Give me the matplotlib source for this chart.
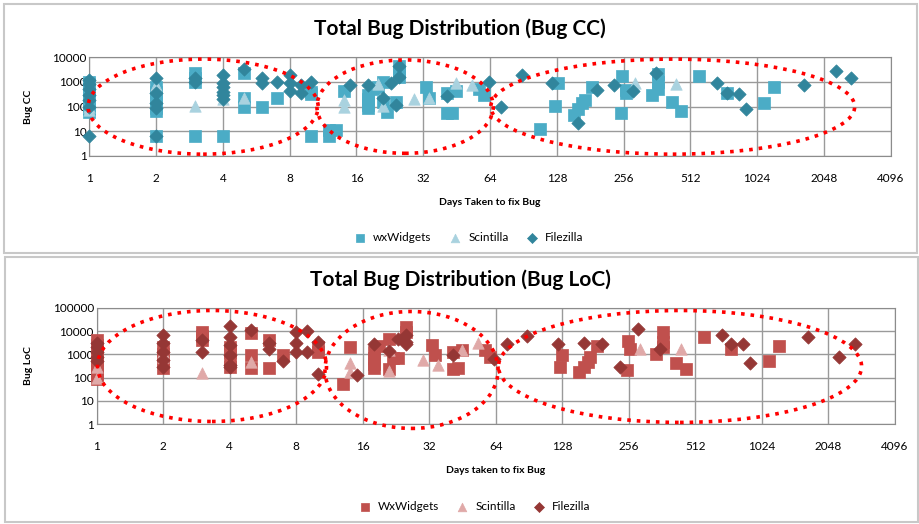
#!/usr/bin/env python3
import matplotlib
matplotlib.use("Agg")
import matplotlib.pyplot as plt
from matplotlib.patches import Ellipse, Rectangle

plt.rcParams['font.family'] = ['Lato', 'DejaVu Sans']

# ---- Bug CC (top panel) ----
cc_wx_days = [1, 1, 1, 1, 1, 1, 1, 1, 2, 2, 2, 2, 2, 2, 2, 3, 3, 3, 3, 4,
              5, 5, 5, 6, 7, 10, 10, 10, 12, 12, 13, 14, 18, 18, 18, 18,
              19, 20, 21, 21, 22, 24, 25, 25, 25, 33, 34, 41, 41, 43, 45,
              57, 60, 107, 125, 130, 153, 160, 167, 171, 184, 249, 253,
              263, 263, 342, 367, 367, 367, 421, 464, 560, 745, 1100, 1220]
cc_wx_vals = [1000, 800, 500, 300, 200, 120, 80, 60, 600, 400, 250, 150, 90,
              65, 6.5, 2400, 1500, 1000, 6.5, 6.5, 2400, 220, 95, 95, 220,
              400, 330, 6.5, 11, 6.5, 11, 440, 300, 200, 120, 90, 500, 650,
              1000, 160, 62, 160, 4500, 2500, 1600, 600, 220, 370, 55, 55,
              440, 500, 300, 12, 110, 900, 48, 78, 135, 185, 600, 53, 1750,
              470, 350, 290, 2200, 1000, 500, 160, 66, 1750, 350, 135, 600]

cc_sc_days = [1, 1, 2, 2, 3, 4, 5, 14, 14, 20, 21, 29, 34, 45, 53, 289, 440]
cc_sc_vals = [100, 70, 750, 550, 105, 200, 220, 185, 100, 850, 110, 200, 220,
              870, 750, 870, 800]

cc_fz_days = [1, 1, 1, 1, 1, 1, 1, 2, 2, 2, 2, 2, 3, 3, 4, 4, 4, 4, 4, 4, 5,
              6, 6, 7, 8, 8, 8, 9, 9, 10, 15, 18, 21, 23, 24, 25, 25, 41, 63,
              72, 89, 122, 160, 194, 232, 281, 358, 672, 745, 848, 910, 1660,
              2310, 2720]
cc_fz_vals = [1200, 800, 500, 300, 180, 100, 6.5, 1400, 350, 135, 85, 6.5,
              1400, 1000, 2000, 900, 600, 400, 300, 200, 3300, 1400, 870,
              1000, 1900, 870, 450, 750, 370, 1000, 750, 750, 230, 930, 115,
              4400, 1600, 275, 1000, 100, 1900, 950, 22, 470, 750, 440, 2400,
              950, 360, 315, 80, 770, 2850, 1500]

# ---- Bug LoC (bottom panel) ----
loc_wx_days = [1, 1, 1, 1, 1, 1, 1, 1, 1, 2, 2, 2, 2, 3, 3, 3, 4, 4, 4, 4,
               5, 5, 5, 6, 6, 7, 10, 10, 13, 14, 18, 18, 18, 18, 19, 21, 21,
               22, 23, 25, 25, 33, 34, 41, 41, 43, 45, 57, 60, 125, 128, 153,
               161, 167, 171, 184, 251, 255, 260, 342, 367, 367, 367, 421,
               464, 560, 745, 1100, 1220]
loc_wx_vals = [4000, 2500, 1500, 1000, 600, 400, 250, 150, 90, 2000, 1000,
               500, 250, 9000, 6000, 4000, 2000, 1200, 600, 300, 8500, 950,
               250, 4200, 250, 950, 2000, 1300, 52, 2000, 1300, 700, 400, 250,
               2200, 4400, 230, 680, 680, 15500, 9000, 2500, 950, 1300, 230,
               250, 1600, 1600, 800, 300, 950, 180, 300, 490, 750, 2300, 210,
               3800, 1650, 1050, 8800, 3500, 2150, 410, 240, 5700, 1650, 540,
               2350]

loc_sc_days = [1, 1, 2, 2, 3, 5, 14, 14, 21, 21, 30, 35, 45, 53, 289, 440]
loc_sc_vals = [100, 300, 1300, 800, 165, 490, 440, 180, 1600, 190, 570, 350,
               1500, 3000, 1650, 1650]

loc_fz_days = [1, 1, 1, 1, 1, 2, 2, 2, 2, 2, 3, 3, 4, 4, 4, 4, 4, 4, 5, 6, 6,
               7, 8, 8, 8, 9, 9, 10, 10, 15, 18, 21, 23, 25, 25, 25, 41, 63,
               72, 89, 122, 161, 194, 234, 282, 355, 677, 745, 845, 906, 1660,
               2290, 2700]
loc_fz_vals = [3000, 2000, 1200, 800, 500, 6800, 3000, 1300, 570, 300, 4200,
               1300, 16000, 5700, 2500, 950, 350, 280, 11000, 3000, 1650, 520,
               8800, 3200, 1200, 10400, 1300, 3500, 145, 130, 2700, 1400, 4400,
               6500, 3500, 2800, 950, 620, 2800, 6200, 2800, 3000, 2800, 300,
               12000, 1650, 7000, 2800, 2700, 410, 5700, 750, 2700]

x_ticks = [2 ** i for i in range(13)]


def draw_panel(ax, series, labels, colors, title, title_y, ylabel, xlabel,
               y_ticks, ellipses, legend_y):
    markers = ['s', '^', 'D']
    sizes = [68, 68, 46]
    for (d, v), lab, col, m, s in zip(series, labels, colors, markers, sizes):
        ax.scatter(d, v, marker=m, s=s, color=col, edgecolors=col,
                   linewidths=0.5, label=lab, zorder=3, clip_on=False)

    ax.set_xscale('log', base=2)
    ax.set_yscale('log')
    ax.set_xlim(1, 4096)
    ax.set_ylim(1, y_ticks[-1])
    ax.set_xticks(x_ticks)
    ax.set_xticklabels([str(t) for t in x_ticks])
    ax.set_yticks(y_ticks)
    ax.set_yticklabels([str(t) for t in y_ticks])
    ax.minorticks_off()
    ax.tick_params(axis='x', length=0, pad=12, labelsize=8.5)
    ax.tick_params(axis='y', length=0, pad=2, labelsize=8.5)
    ax.grid(True, color='#9a9a9a', linewidth=1)
    ax.set_axisbelow(True)
    for sp in ax.spines.values():
        sp.set_color('#8c8c8c')

    # title is centred on the figure, not on the plot area
    ax.figure.text(0.5, title_y, title, fontsize=15, fontweight='bold',
                   ha='center', va='center')
    ax.set_ylabel(ylabel, fontsize=7.5, fontweight='bold', labelpad=14)
    ax.set_xlabel(xlabel, fontsize=7.5, fontweight='bold', labelpad=10)

    for cx, cy, w, h in ellipses:
        ax.add_patch(Ellipse((cx, cy), w, h, transform=ax.transAxes,
                             fill=False, edgecolor='red', linestyle=':',
                             linewidth=2.6, clip_on=False, zorder=4))

    ax.legend(loc='upper center', bbox_to_anchor=(0.47, legend_y), ncol=3,
              frameon=False, fontsize=8.5, handletextpad=0.1,
              columnspacing=1.0, markerscale=0.75)


fig = plt.figure(figsize=(9.2, 5.24), dpi=100)

# panel borders
fig.patches.append(Rectangle((4 / 920, 1 - 253 / 524), 913 / 920, 249 / 524,
                             transform=fig.transFigure, fill=False,
                             edgecolor='#c8c8c8', linewidth=1.5))
fig.patches.append(Rectangle((5 / 920, 1 - 522 / 524), 913 / 920, 265 / 524,
                             transform=fig.transFigure, fill=False,
                             edgecolor='#c8c8c8', linewidth=1.5))

ax1 = fig.add_axes([0.0971, 0.7023, 0.8711, 0.1884])
draw_panel(ax1,
           [(cc_wx_days, cc_wx_vals), (cc_sc_days, cc_sc_vals),
            (cc_fz_days, cc_fz_vals)],
           ['wxWidgets', 'Scintilla', 'Filezilla'],
           ['#4bacc6', '#a9d2df', '#31859c'],
           'Total Bug Distribution (Bug CC)', 1 - 29 / 524, 'Bug CC',
           'Days Taken to fix Bug', [1, 10, 100, 1000, 10000],
           [(0.142, 0.5, 0.287, 0.963), (0.394, 0.5, 0.22, 0.946),
            (0.728, 0.5, 0.454, 0.963)], -0.665)

ax2 = fig.add_axes([0.1051, 0.1903, 0.8674, 0.2225])
draw_panel(ax2,
           [(loc_wx_days, loc_wx_vals), (loc_sc_days, loc_sc_vals),
            (loc_fz_days, loc_fz_vals)],
           ['WxWidgets', 'Scintilla', 'Filezilla'],
           ['#c0504d', '#e0a9a8', '#953735'],
           'Total Bug Distribution (Bug LoC)', 1 - 280 / 524, 'Bug LoC',
           'Days taken to fix Bug', [1, 10, 100, 1000, 10000, 100000],
           [(0.1445, 0.5, 0.287, 0.952), (0.3945, 0.466, 0.217, 1.003),
            (0.731, 0.496, 0.455, 0.96)], -0.565)

fig.savefig('out.png', dpi=100)
